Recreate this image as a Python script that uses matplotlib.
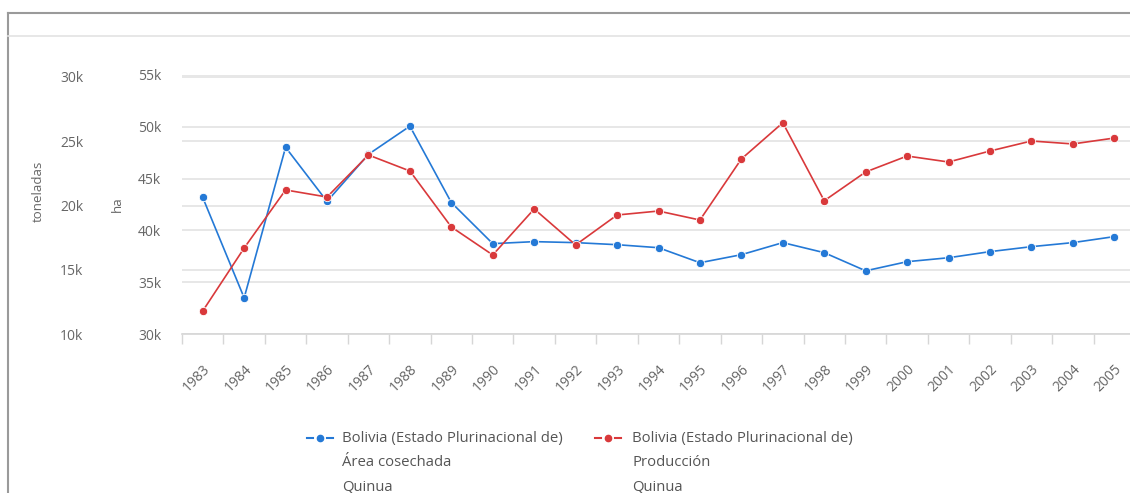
import numpy as np
import matplotlib
matplotlib.use("Agg")
import matplotlib.pyplot as plt
from matplotlib.lines import Line2D

# Data
years = [str(y) for y in range(1983, 2006)]

area_ha = [43180, 33490, 48020, 42800, 47345, 50060, 42690, 38720, 38915, 38820,
           38620, 38330, 36880, 37655, 38820, 37850, 36100, 36980, 37360, 37950,
           38430, 38820, 39400]

prod_t = [11790, 16690, 21210, 20660, 23930, 22685, 18330, 16150, 19730, 16930,
          19260, 19570, 18870, 23620, 26440, 20370, 22610, 23850, 23385, 24240,
          25020, 24790, 25250]

ha_ticks = [30000, 35000, 40000, 45000, 50000, 55000]
ha_labels = ["30k", "35k", "40k", "45k", "50k", "55k"]
t_ticks = [10000, 15000, 20000, 25000, 30000]
t_labels = ["10k", "15k", "20k", "25k", "30k"]

legend_labels = [
    "Bolivia (Estado Plurinacional de)\nÁrea cosechada\nQuinua",
    "Bolivia (Estado Plurinacional de)\nProducción\nQuinua",
]

blue = "#2479d6"
red = "#d9393b"
text_col = "#666666"
grid_col = "#e3e3e3"

plt.rcParams["font.family"] = ["Open Sans", "DejaVu Sans"]

W, H = 1130, 493
fig = plt.figure(figsize=(W / 100, H / 100), dpi=100)

# plot box in pixels: left 182, right 1135, top 75, bottom 334
left, right, top, bottom = 182, 1135, 75, 334
rect = [left / W, (H - bottom) / H, (right - left) / W, (bottom - top) / H]

ax_t = fig.add_axes(rect)   # toneladas (outer axis)
ax = fig.add_axes(rect)     # ha (inner axis)
ax.patch.set_visible(False)

x = np.arange(len(years))

# toneladas axis
ax_t.set_ylim(10000, 10000 + (bottom - top) / 64.25 * 5000)
ax_t.set_yticks(t_ticks)
ax_t.set_yticklabels(t_labels)
ax_t.set_xlim(-0.5, len(years) - 0.5)
ax_t.set_xticks([])
ax_t.grid(axis="y", color=grid_col, linewidth=1.2)
ax_t.tick_params(axis="y", length=0, pad=71, labelsize=10, labelcolor=text_col)
for s in ax_t.spines.values():
    s.set_visible(False)
ax_t.set_ylabel("toneladas", color=text_col, fontsize=9.5)
ax_t.yaxis.set_label_coords(-137 / (right - left), 0.55)

# ha axis
ax.set_ylim(30000, 55000)
ax.set_yticks(ha_ticks)
ax.set_yticklabels(ha_labels)
ax.set_xlim(-0.5, len(years) - 0.5)
ax.set_xticks(x)
ax.set_xticklabels(years, rotation=45, ha="right", rotation_mode="anchor")
ax.set_xticks(np.arange(len(years) + 1) - 0.5, minor=True)
ax.grid(axis="y", color=grid_col, linewidth=1.2)
ax.tick_params(axis="y", length=0, pad=15, labelsize=10, labelcolor=text_col)
ax.tick_params(axis="x", which="major", length=0, pad=20, labelsize=10,
               labelcolor=text_col)
ax.tick_params(axis="x", which="minor", length=7, color="#d6d6d6", width=1)
for s in ["top", "right", "left"]:
    ax.spines[s].set_visible(False)
ax.spines["bottom"].set_color("#d6d6d6")
ax.spines["bottom"].set_linewidth(1.2)
ax.set_ylabel("ha", color=text_col, fontsize=9.5)
ax.yaxis.set_label_coords(-58 / (right - left), 0.5)

# series
ax.plot(x, area_ha, color=blue, linewidth=1.2, marker="o", markersize=6,
        markeredgecolor="white", markeredgewidth=0.6, zorder=3, clip_on=False)
ax.plot(x, np.interp(prod_t, ax_t.get_ylim(), ax.get_ylim()), color=red,
        linewidth=1.2, marker="o", markersize=6, markeredgecolor="white",
        markeredgewidth=0.6, zorder=3, clip_on=False)

# frame of the screenshot
fig.add_artist(Line2D([8 / W, 8 / W], [0, 1 - 13 / H], color="#9a9a9a",
                      linewidth=1.5, transform=fig.transFigure))
fig.add_artist(Line2D([8 / W, 1], [1 - 13 / H, 1 - 13 / H], color="#9a9a9a",
                      linewidth=1.5, transform=fig.transFigure))
fig.add_artist(Line2D([8 / W, 1], [1 - 36 / H, 1 - 36 / H], color=grid_col,
                      linewidth=1.2, transform=fig.transFigure))

# legend drawn manually
ly = 1 - 438 / H
for lab, col, lx, tx in zip(legend_labels, [blue, red], [307, 595], [342, 632]):
    for a, b in [(lx, lx + 6), (lx + 20, lx + 26)]:
        fig.add_artist(Line2D([a / W, b / W], [ly, ly], color=col, linewidth=1.5,
                              transform=fig.transFigure))
    fig.add_artist(Line2D([(lx + 13) / W], [ly], color=col, marker="o",
                          markersize=4.5, transform=fig.transFigure))
    fig.text(tx / W, 1 - 431 / H, lab, color="#555555", fontsize=10.7,
             va="top", ha="left", linespacing=1.86)

fig.savefig("out.png", dpi=100)
